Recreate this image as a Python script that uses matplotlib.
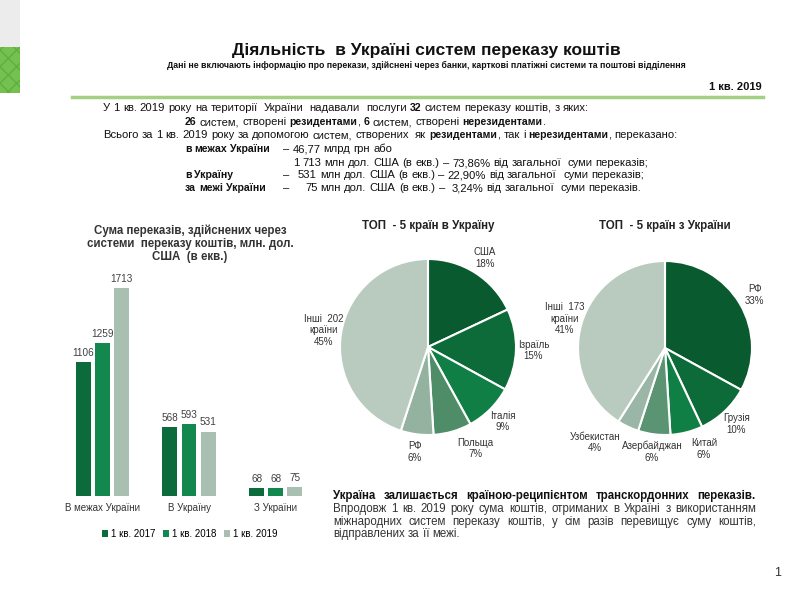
import matplotlib
matplotlib.use("Agg")
import matplotlib.pyplot as plt
import numpy as np
from matplotlib.patches import Rectangle
from matplotlib.lines import Line2D

W, H = 800, 600

NARROW = ["Liberation Sans Narrow", "Liberation Sans", "DejaVu Sans"]
ARIAL = ["Liberation Sans", "DejaVu Sans"]

# bar chart data
categories = ["В межах України", "В Україну", "З України"]
series_names = ["1 кв. 2017", "1 кв. 2018", "1 кв. 2019"]
values_2017 = [1106, 568, 68]
values_2018 = [1259, 593, 68]
values_2019 = [1713, 531, 75]

# pie: top-5 to Ukraine
to_ua_labels = ["США", "Ізраїль", "Італія", "Польща", "РФ", "Інші  202\nкраїни"]
to_ua_share = [18, 15, 9, 7, 6, 45]

# pie: top-5 from Ukraine
from_ua_labels = ["РФ", "Грузія", "Китай", "Азербайджан", "Узбекистан", "Інші  173\nкраїни"]
from_ua_share = [33, 10, 6, 6, 4, 41]

bar_colors = ["#0b6b3a", "#13884e", "#a9bfb1"]
pie1_colors = ["#0a5a30", "#0c6b38", "#0f7f45", "#4e8d67", "#93b3a0", "#b9cbbf"]
pie2_colors = ["#0a5a30", "#0c6b38", "#0f7f45", "#5b9473", "#9ab6a6", "#b9cbbf"]

fig = plt.figure(figsize=(8, 6), dpi=100)
fig.patch.set_facecolor("white")


def fx(x):
    return x / W


def fy(y):
    return 1 - y / H


# decoration on the left and header rule
fig.add_artist(Rectangle((0, fy(47)), fx(20), 47 / H, transform=fig.transFigure,
                         facecolor="#ececec", edgecolor="none"))
fig.add_artist(Rectangle((0, fy(93)), fx(20), 46 / H, transform=fig.transFigure,
                         facecolor="#74c150", edgecolor="#5fae3e", hatch="xx", lw=0))
fig.add_artist(Line2D([fx(72), fx(763)], [fy(97), fy(97)], transform=fig.transFigure,
                      color="#a3d083", lw=2.5))

fig.text(fx(426), fy(50), "Діяльність  в Україні систем переказу коштів", ha="center",
         va="center", fontsize=12.5, weight="bold", family=NARROW, color="#111111")
fig.text(fx(426), fy(65), "Дані не включають інформацію про перекази, здійснені через банки, "
         "карткові платіжні системи та поштові відділення", ha="center", va="center",
         fontsize=6.3, weight="bold", family=NARROW, color="#111111")
fig.text(fx(762), fy(87), "1 кв. 2019", ha="right", va="center", fontsize=8,
         weight="bold", family=NARROW, color="#111111")

renderer = fig.canvas.get_renderer()


def text_width(s, size, bold, family):
    t = fig.text(0, 0, s, fontsize=size, weight="bold" if bold else "normal", family=family)
    w = t.get_window_extent(renderer).width
    t.remove()
    return w


def draw_runs(x0, y, runs, size, family, x1=None, color="#111111", bold_size=None):
    # y is the visual middle of the line; words are placed on a shared baseline
    base = y + size * 100 / 72 * 0.36
    sizes = {False: size, True: bold_size or size}
    sp = {}
    for b in (False, True):
        sp[b] = text_width("a a", sizes[b], b, family) - text_width("aa", sizes[b], b, family)
    tokens = []
    for txt, bold in runs:
        for i, part in enumerate(txt.split(" ")):
            tokens.append((part, bold, i > 0))
    widths = [text_width(p, sizes[b], b, family) if p else 0 for p, b, g in tokens]
    natural = sum(widths) + sum(sp[b] for p, b, g in tokens if g)
    ngaps = sum(1 for p, b, g in tokens if g)
    extra = 0
    if x1 is not None and ngaps:
        extra = (x1 - x0 - natural) / ngaps
    x = x0
    for (p, b, g), w in zip(tokens, widths):
        if g:
            x += sp[b] + extra
        if p:
            fig.text(fx(x), fy(base), p, fontsize=sizes[b], weight="bold" if b else "normal",
                     family=family, va="baseline", ha="left", color=color)
            x += w


# summary text block
fs = 8.1
bs = 7.6
draw_runs(103, 107, [("У 1 кв. 2019 року на території  України  надавали  послуги ", False),
                     ("32", True), (" систем переказу коштів, з яких:", False)], fs, NARROW,
          bold_size=bs)
draw_runs(185, 121, [("26", True), (" систем, створені ", False), ("резидентами", True),
                     (", ", False), ("6", True), (" систем, створені ", False),
                     ("нерезидентами", True), (".", False)], fs, NARROW, bold_size=bs)
draw_runs(103, 134, [("Всього за 1 кв. 2019 року за допомогою систем, створених  як ", False),
                     ("резидентами", True), (", так і ", False), ("нерезидентами", True),
                     (", переказано:", False)], fs, NARROW, bold_size=bs)
draw_runs(185, 148, [("в межах України", True)], fs, NARROW, bold_size=bs)
draw_runs(283, 148, [("– 46,77 млрд грн або", False)], fs, NARROW)
draw_runs(293, 162, [("1 713 млн дол. США (в екв.) – 73,86% від загальної  суми переказів;", False)],
          fs, NARROW)
draw_runs(185, 174, [("в Україну", True)], fs, NARROW, bold_size=bs)
draw_runs(283, 174, [("–", False)], fs, NARROW)
draw_runs(298, 174, [("531 млн дол. США (в екв.) – 22,90% від загальної  суми переказів;", False)],
          fs, NARROW)
draw_runs(185, 187, [("за межі України", True)], fs, NARROW, bold_size=bs)
draw_runs(283, 187, [("–", False)], fs, NARROW)
draw_runs(305, 187, [("75 млн дол. США (в екв.) –  3,24% від загальної  суми переказів.", False)],
          fs, NARROW)

# bar chart
ymax = 1800
px_per_unit = (496 - 288) / 1713
ax_h = ymax * px_per_unit
ax = fig.add_axes([fx(59), fy(496), fx(319) - fx(59), ax_h / H])
x = np.arange(len(categories))
bw = 0.173
step = 0.22
all_vals = [values_2017, values_2018, values_2019]
handles = []
for i, (vals, c, name) in enumerate(zip(all_vals, bar_colors, series_names)):
    bars = ax.bar(x + (i - 1) * step, vals, bw, color=c, label=name)
    ax.bar_label(bars, padding=3, fontsize=7.2, color="#404040", family=ARIAL)
    handles.append(bars)
ax.set_xlim(-0.5, 2.5)
ax.set_ylim(0, ymax)
ax.set_yticks([])
ax.set_xticks(x)
ax.set_xticklabels(categories, fontsize=7, color="#333333", family=ARIAL)
ax.tick_params(axis="x", length=0, pad=5)
for s in ax.spines.values():
    s.set_visible(False)
ax.patch.set_alpha(0)

fig.legend(handles=handles, labels=series_names, loc="center", bbox_to_anchor=(fx(190), fy(534)),
           ncol=3, frameon=False, handlelength=0.6, handleheight=0.6,
           handletextpad=0.3, columnspacing=0.8, prop={"family": ARIAL, "size": 7})

for i, line in enumerate(["Сума переказів, здійснених через",
                          "системи  переказу коштів, млн. дол.",
                          "США  (в екв.)"]):
    fig.text(fx(190), fy(231 + i * 13), line, ha="center", va="center", fontsize=8.3,
             weight="bold", family=ARIAL, color="#333333")

# pies
anchor = {"Узбекистан": "right", "Китай": "left", "Польща": "left"}


def draw_pie(cx, cy, r, labels, shares, colors, title):
    side = 2.6 * r
    pax = fig.add_axes([fx(cx - side / 2), fy(cy + side / 2), side / W, side / H])
    texts = pax.pie(shares, labels=[f"{l}\n{s}%" for l, s in zip(labels, shares)],
                    colors=colors, startangle=90, counterclock=False, labeldistance=1.2,
                    wedgeprops={"edgecolor": "white", "linewidth": 1.5},
                    textprops={"fontsize": 7, "family": ARIAL, "color": "#333333"})[1]
    for t, l in zip(texts, labels):
        t.set_ha(anchor.get(l, "center"))
        t.set_va("center")
        t.set_multialignment("center")
    pax.set_xlim(-1.3, 1.3)
    pax.set_ylim(-1.3, 1.3)
    pax.set_aspect("equal")
    fig.text(fx(cx), fy(226), title, ha="center", va="center", fontsize=8.3, weight="bold",
             family=ARIAL, color="#222222")


draw_pie(428, 347, 88, to_ua_labels, to_ua_share, pie1_colors, "ТОП  - 5 країн в Україну")
draw_pie(665, 348, 87, from_ua_labels, from_ua_share, pie2_colors, "ТОП  - 5 країн з України")

# bottom note
fb = 8.3
draw_runs(333, 495, [("Україна залишається країною-реципієнтом транскордонних переказів.", True)],
          fb, ARIAL, x1=756)
draw_runs(333, 508, [("Впродовж 1 кв. 2019 року сума коштів, отриманих в Україні з використанням", False)],
          fb, ARIAL, x1=756, color="#333333")
draw_runs(333, 521, [("міжнародних систем переказу коштів, у сім разів перевищує суму коштів,", False)],
          fb, ARIAL, x1=756, color="#333333")
draw_runs(333, 533, [("відправлених за її межі.", False)], fb, ARIAL, color="#333333")

fig.text(fx(778), fy(573), "1", ha="center", va="center", fontsize=9, family=ARIAL,
         color="#333333")

fig.savefig("out.png", dpi=100)
